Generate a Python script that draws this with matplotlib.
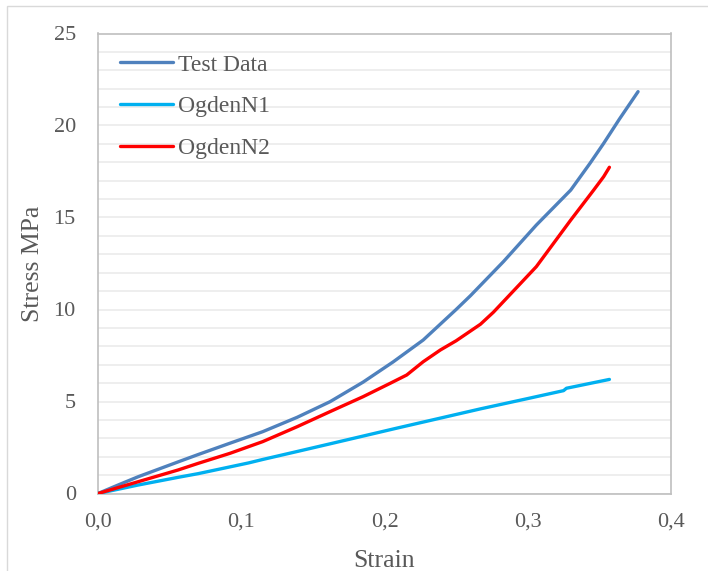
import matplotlib
matplotlib.use("Agg")
import matplotlib.pyplot as plt
from matplotlib.patches import Rectangle
from matplotlib.ticker import MultipleLocator, FuncFormatter

# values
test_strain = [0, 0.014, 0.028, 0.056, 0.07, 0.092, 0.115, 0.139, 0.162, 0.185,
               0.206, 0.227, 0.25, 0.26, 0.283, 0.306, 0.33, 0.3435, 0.353,
               0.364, 0.377]
test_stress = [0, 0.46, 0.91, 1.72, 2.12, 2.73, 3.36, 4.14, 4.99, 6.05,
               7.15, 8.34, 10.0, 10.75, 12.6, 14.59, 16.49, 17.95, 19.03,
               20.35, 21.84]

n1_strain = [0, 0.028, 0.056, 0.07, 0.105, 0.115, 0.14, 0.162, 0.2085, 0.267,
             0.3, 0.325, 0.327, 0.357]
n1_stress = [0, 0.46, 0.88, 1.08, 1.66, 1.85, 2.3, 2.7, 3.55, 4.6,
             5.16, 5.59, 5.72, 6.2]

n2_strain = [0, 0.028, 0.056, 0.07, 0.092, 0.115, 0.139, 0.162, 0.185, 0.204,
             0.2155, 0.227, 0.239, 0.25, 0.267, 0.276, 0.295, 0.306, 0.33,
             0.346, 0.353, 0.357]
n2_stress = [0, 0.64, 1.28, 1.64, 2.18, 2.82, 3.63, 4.45, 5.26, 5.99,
             6.44, 7.16, 7.8, 8.3, 9.2, 9.85, 11.42, 12.33, 14.86,
             16.49, 17.22, 17.73]

series_labels = ["Test Data", "OgdenN1", "OgdenN2"]
y_ticks = [0, 5, 10, 15, 20, 25]
x_ticks = [0.0, 0.1, 0.2, 0.3, 0.4]

TEXT = "#595959"
plt.rcParams["font.family"] = ["Liberation Serif", "DejaVu Serif"]


def main():
    fig = plt.figure(figsize=(7.08, 5.71), dpi=100)
    fig.patches.append(Rectangle((6.5 / 708, -0.1), 1.2, 1.1 - 6.5 / 571,
                                 transform=fig.transFigure, fill=False,
                                 edgecolor="#D9D9D9", linewidth=1.0))
    ax = fig.add_axes([98 / 708, 77.5 / 571, 573 / 708, 460 / 571])

    ax.plot(test_strain, test_stress, color="#4F81BD", lw=2.4,
            solid_capstyle="round", solid_joinstyle="round",
            label=series_labels[0], zorder=3)
    ax.plot(n1_strain, n1_stress, color="#00B0F0", lw=2.4,
            solid_capstyle="round", solid_joinstyle="round",
            label=series_labels[1], zorder=3)
    ax.plot(n2_strain, n2_stress, color="#FF0000", lw=2.4,
            solid_capstyle="round", solid_joinstyle="round",
            label=series_labels[2], zorder=3)

    ax.set_xlim(0, 0.4)
    ax.set_ylim(0, 25)
    ax.set_xticks(x_ticks)
    ax.set_yticks(y_ticks)
    ax.yaxis.set_minor_locator(MultipleLocator(1))
    ax.xaxis.set_major_formatter(FuncFormatter(lambda v, p: f"{v:.1f}".replace(".", ",")))
    ax.grid(True, which="both", axis="y", color="#EDEDED", lw=1.3)
    ax.set_axisbelow(True)
    ax.tick_params(which="both", length=0, labelsize=16, labelcolor=TEXT)
    ax.tick_params(axis="y", pad=16)
    ax.tick_params(axis="x", pad=14)
    for s in ax.spines.values():
        s.set_color("#BFBFBF")
        s.set_linewidth(1.2)

    ax.set_xlabel("Strain", fontsize=18.5, color=TEXT, labelpad=13)
    ax.set_ylabel("Stress MPa", fontsize=18.5, color=TEXT, labelpad=6.5)

    ax.legend(loc="upper left", bbox_to_anchor=(0.038, 0.955), frameon=False,
              fontsize=17, labelcolor=TEXT, handlelength=2.25,
              handletextpad=0.2, labelspacing=0.85, borderpad=0,
              borderaxespad=0)

    fig.savefig("out.png", dpi=100)
    plt.close(fig)


if __name__ == "__main__":
    main()
